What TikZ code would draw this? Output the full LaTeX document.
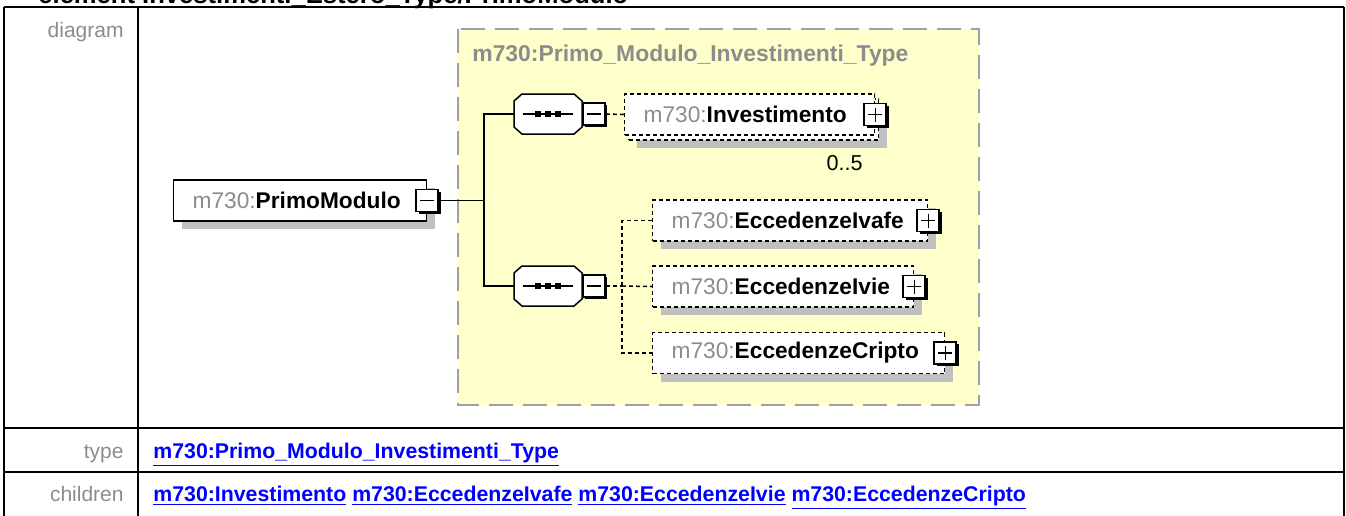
\documentclass[tikz,border=0pt]{standalone}
\usepackage{fontspec}
\setmainfont{Liberation Sans}
\usetikzlibrary{shadows}
\definecolor{panelfill}{HTML}{FFFFCC}
\definecolor{panelline}{HTML}{A0A0A0}
\definecolor{shade}{HTML}{C0C0C0}
\definecolor{nsgray}{HTML}{8C8C8C}
\definecolor{linkblue}{HTML}{0000FF}
\newcommand{\qname}[1]{{\color{nsgray}m730:}\textbf{#1}}
\newcommand{\xlink}[1]{\underline{\textbf{#1}}}
\begin{document}
\begin{tikzpicture}[x=0.5pt, y=-0.5pt,
    tableline/.style={line width=1.2pt},
    rowlabel/.style={anchor=base east, inner sep=0pt, text=nsgray, font=\fontsize{10.5}{12}\selectfont},
    linktext/.style={anchor=base west, inner sep=0pt, text=linkblue, font=\fontsize{10.65}{12}\selectfont},
    elem/.style={draw, fill=white, anchor=west, line width=0.65pt, minimum height=20.5pt,
        inner xsep=9.5pt, inner ysep=0pt, align=left, font=\fontsize{11.35}{13.6}\selectfont},
    boxshadow/.style={general shadow={fill=shade, shadow xshift=4pt, shadow yshift=-4pt}},
    optional/.style={dash pattern=on 2pt off 1.5pt},
    wire/.style={line width=0.75pt},
    toggle/.style={draw, fill=white, line width=0.9pt, minimum size=11pt, inner sep=0pt,
        general shadow={fill=black, shadow xshift=1.1pt, shadow yshift=-1.1pt}},
    minusbox/.style={toggle, path picture={
        \draw[line width=0.8pt] ([xshift=2pt]path picture bounding box.west) -- ([xshift=-2pt]path picture bounding box.east);}},
    plusbox/.style={toggle, path picture={
        \draw[line width=0.8pt] ([xshift=2pt]path picture bounding box.west) -- ([xshift=-2pt]path picture bounding box.east)
            ([yshift=-2pt]path picture bounding box.north) -- ([yshift=2pt]path picture bounding box.south);}},
    seqbox/.style={rectangle, minimum width=34pt, minimum height=20pt, inner sep=0pt, outer sep=0pt, anchor=west}]
    \path[use as bounding box] (0,0) rectangle (1346,515);
    \clip (0,0) rectangle (1346,515);
    % Heading, cut off at the top
    \node[anchor=base west, inner sep=0pt, font=\bfseries\fontsize{12.8}{15}\selectfont] (heading) at (38,3)
        {element Investimenti\_Estero\_Type/PrimoModulo};
    % Table
    \draw[tableline] (4,7) -- (1344,7);
    \draw[tableline] (4,7) -- (4,516);
    \draw[tableline] (138,7) -- (138,516);
    \draw[tableline] (1344,7) -- (1344,516);
    \draw[tableline] (4,428) -- (1344,428);
    \draw[tableline] (4,472) -- (1344,472);
    \node[rowlabel] (lbldiagram) at (124,37) {diagram};
    \node[rowlabel] (lbltype) at (124,458) {type};
    \node[rowlabel] (lblchildren) at (124,501) {children};
    \node[linktext] (typelink) at (153,458) {\xlink{m730:Primo\_Modulo\_Investimenti\_Type}};
    \node[linktext] (childlinks) at (153,501)
        {\xlink{m730:Investimento} \xlink{m730:EccedenzeIvafe} \xlink{m730:EccedenzeIvie} \xlink{m730:EccedenzeCripto}};
    % Complex type panel
    \draw[fill=panelfill, draw=panelline, line width=1pt, dash pattern=on 12pt off 5pt] (457.5,28.5) rectangle (978.5,405);
    \node[anchor=west, inner sep=0pt, text=nsgray, font=\bfseries\fontsize{11.45}{13.6}\selectfont] (paneltitle) at (472,56)
        {m730:Primo\_Modulo\_Investimenti\_Type};
    % Root element
    \node[elem, boxshadow, text width=107.5pt] (primo) at (173,200.5) {\qname{PrimoModulo}};
    \node[minusbox] (primotog) at (primo.east) {};
    % Sequences (octagons)
    \node[seqbox] (seqA) at (514,114) {};
    \node[seqbox] (seqB) at (514,286) {};
    \foreach \s in {seqA,seqB} {
        \foreach \sh/\col in {{(4pt,-4pt)}/shade, {(0pt,0pt)}/white}
            \filldraw[fill=\col, draw=\col, line width=0.75pt, shift=\sh]
                ([xshift=4pt]\s.north west) -- ([xshift=-4pt]\s.north east) -- ([yshift=-3.5pt]\s.north east)
                -- ([yshift=3.5pt]\s.south east) -- ([xshift=-4pt]\s.south east) -- ([xshift=4pt]\s.south west)
                -- ([yshift=3.5pt]\s.south west) -- ([yshift=-3.5pt]\s.north west) -- cycle;
        \draw[line width=0.75pt]
            ([xshift=4pt]\s.north west) -- ([xshift=-4pt]\s.north east) -- ([yshift=-3.5pt]\s.north east)
            -- ([yshift=3.5pt]\s.south east) -- ([xshift=-4pt]\s.south east) -- ([xshift=4pt]\s.south west)
            -- ([yshift=3.5pt]\s.south west) -- ([yshift=-3.5pt]\s.north west) -- cycle;
        \draw[wire] ([xshift=4.5pt]\s.west) -- ([xshift=-4.5pt]\s.east);
        \foreach \d in {-5,0,5}
            \fill ([xshift=\d pt]\s.center) ++(-1.3pt,-1.3pt) rectangle ++(2.6pt,2.6pt);
    }
    \node[minusbox, anchor=west] (seqAtog) at (seqA.east) {};
    \node[minusbox, anchor=west] (seqBtog) at (seqB.east) {};
    % Child elements
    \node[elem, boxshadow, optional, minimum width=125pt] (investback) at (628,119.5) {};
    \node[elem, optional, text width=106pt] (invest) at (624,114.5) {\qname{Investimento}};
    \node[plusbox] (investtog) at (invest.east) {};
    \node[anchor=base east, inner sep=0pt, font=\fontsize{10.8}{12}\selectfont] (investmult) at (863,170) {0..5};
    \node[elem, boxshadow, optional, text width=118.5pt] (ivafe) at (652,220.5) {\qname{EccedenzeIvafe}};
    \node[plusbox] (ivafetog) at (ivafe.east) {};
    \node[elem, boxshadow, optional, text width=111.5pt] (ivie) at (652,286.5) {\qname{EccedenzeIvie}};
    \node[plusbox] (ivietog) at (ivie.east) {};
    \node[elem, boxshadow, optional, text width=127pt] (cripto) at (652,353) {\qname{EccedenzeCripto}};
    \node[plusbox] (criptotog) at (cripto.east) {};
    % Connectors
    \coordinate (fork) at (484,200.5);
    \coordinate (branch) at (622,286);
    \draw[wire] (primotog.east) -- (fork);
    \draw[wire] (seqA.west) -| (fork) |- (seqB.west);
    \draw[wire, optional] (seqAtog.east) -- (invest.west);
    \draw[wire, optional] (seqBtog.east) -- (branch);
    \draw[wire, optional] (ivafe.west) -| (branch) |- (cripto.west);
    \draw[wire, optional] (branch) -- (ivie.west);
\end{tikzpicture}
\end{document}
